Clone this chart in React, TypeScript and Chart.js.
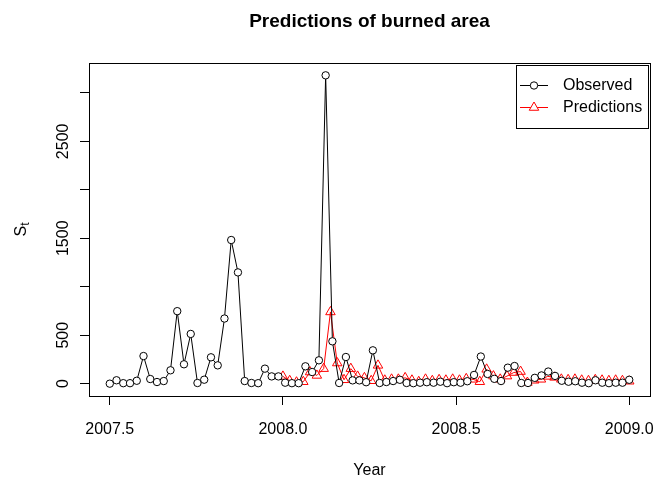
import React, { useEffect, useRef } from 'react';
import { Chart, registerables } from 'chart.js';

Chart.register(...registerables);

// ---- data: observed (2007.5 .. 2009.0, evenly spaced) and predictions (2008.0 .. 2009.0) ----
const OBS_START = 2007.5;
const OBS_END = 2009.0;
const OBSERVED = [
  0, 35, 5, 5, 30, 285, 48, 17, 27, 138,
  748, 200, 513, 7, 41, 272, 189, 672, 1482, 1148,
  27, 7, 5, 155, 75, 75, 10, 5, 5, 179,
  120, 241, 3181, 437, 7, 275, 34, 34, 15, 344,
  7, 17, 27, 40, 7, 5, 10, 15, 10, 20,
  5, 15, 10, 25, 90, 280, 100, 50, 27, 165,
  182, 7, 7, 60, 85, 125, 80, 30, 20, 25,
  10, 5, 35, 10, 5, 10, 10, 40,
];
const PRED_START = 2008.0;
const PRED_END = 2009.0;
const PREDICTIONS = [
  75, 30, 15, 20, 120, 85, 155, 740, 213, 40,
  155, 75, 60, 30, 189, 35, 45, 45, 60, 35,
  20, 45, 30, 40, 35, 45, 35, 50, 45, 20,
  148, 78, 45, 78, 115, 125, 12, 35, 45, 75,
  65, 45, 40, 45, 35, 30, 40, 35, 30, 35,
  30, 25,
];
const X_TICKS = [2007.5, 2008.0, 2008.5, 2009.0];
const X_TICK_LABELS = ['2007.5', '2008.0', '2008.5', '2009.0'];
const Y_TICKS = [0, 500, 1000, 1500, 2000, 2500, 3000];
const Y_TICK_LABELS = ['0', '500', '', '1500', '', '2500', ''];
const TITLE = 'Predictions of burned area';
const X_TITLE = 'Year';
const Y_TITLE_MAIN = 'S';
const Y_TITLE_SUB = 't';
const SERIES_NAMES = ['Observed', 'Predictions'];
const SERIES_COLORS = ['#000000', '#FF0000'];

const FONT = '"Liberation Sans", Arial, Helvetica, sans-serif';

const evenTimes = (a: number, b: number, n: number) =>
  Array.from({ length: n }, (_, i) => a + ((b - a) * i) / (n - 1));
const obsTimes = evenTimes(OBS_START, OBS_END, OBSERVED.length);
const predTimes = evenTimes(PRED_START, PRED_END, PREDICTIONS.length);
const observedPoints = OBSERVED.map((v, i) => ({ x: obsTimes[i], y: v }));
const predictionPoints = PREDICTIONS.map((v, i) => ({ x: predTimes[i], y: v }));

const xMinData = Math.min(OBS_START, PRED_START);
const xMaxData = Math.max(OBS_END, PRED_END);
const yMaxData = Math.max(...OBSERVED, ...PREDICTIONS);
const yMinData = Math.min(0, ...OBSERVED, ...PREDICTIONS);
const xPad = (xMaxData - xMinData) * 0.04;
const yPad = (yMaxData - yMinData) * 0.04;

const rDecor = {
  id: 'rDecor',
  afterDraw(chart: any) {
    const { ctx, chartArea } = chart;
    const xs = chart.scales.x;
    const ys = chart.scales.y;
    ctx.save();
    // box
    ctx.strokeStyle = '#000';
    ctx.lineWidth = 1;
    ctx.strokeRect(
      Math.round(chartArea.left) + 0.5,
      Math.round(chartArea.top) + 0.5,
      Math.round(chartArea.right - chartArea.left),
      Math.round(chartArea.bottom - chartArea.top)
    );
    ctx.fillStyle = '#000';
    // title
    ctx.font = `bold 19px ${FONT}`;
    ctx.textAlign = 'center';
    ctx.textBaseline = 'alphabetic';
    const cx = (chartArea.left + chartArea.right) / 2;
    ctx.fillText(TITLE, cx, 27);
    // x tick labels
    ctx.font = `16px ${FONT}`;
    X_TICKS.forEach((v, i) => {
      ctx.fillText(X_TICK_LABELS[i], xs.getPixelForValue(v), 434);
    });
    // x title
    ctx.fillText(X_TITLE, cx, 475);
    // y tick labels (rotated)
    Y_TICKS.forEach((v, i) => {
      const lab = Y_TICK_LABELS[i];
      if (!lab) return;
      ctx.save();
      ctx.translate(68, ys.getPixelForValue(v));
      ctx.rotate(-Math.PI / 2);
      ctx.textAlign = 'center';
      ctx.fillText(lab, 0, 0);
      ctx.restore();
    });
    // y title S_t
    ctx.save();
    const cy = (chartArea.top + chartArea.bottom) / 2;
    ctx.translate(26, cy);
    ctx.rotate(-Math.PI / 2);
    ctx.font = `16px ${FONT}`;
    const wS = ctx.measureText(Y_TITLE_MAIN).width;
    ctx.font = `12px ${FONT}`;
    const wT = ctx.measureText(Y_TITLE_SUB).width;
    const start = -(wS + wT) / 2;
    ctx.textAlign = 'left';
    ctx.font = `16px ${FONT}`;
    ctx.fillText(Y_TITLE_MAIN, start, 0);
    ctx.font = `12px ${FONT}`;
    ctx.fillText(Y_TITLE_SUB, start + wS, 3);
    ctx.restore();
    // legend
    const lx0 = 516, ly0 = 65, lx1 = 648, ly1 = 128;
    ctx.fillStyle = '#fff';
    ctx.fillRect(lx0, ly0, lx1 - lx0, ly1 - ly0);
    ctx.strokeStyle = '#000';
    ctx.strokeRect(lx0 + 0.5, ly0 + 0.5, lx1 - lx0, ly1 - ly0);
    const rows = [85, 107];
    SERIES_NAMES.forEach((name, i) => {
      const y = rows[i];
      ctx.strokeStyle = SERIES_COLORS[i];
      ctx.lineWidth = 1;
      ctx.beginPath();
      ctx.moveTo(520, y + 0.5);
      ctx.lineTo(548, y + 0.5);
      ctx.stroke();
      ctx.beginPath();
      if (i === 0) {
        ctx.fillStyle = '#fff';
        ctx.arc(534, y + 0.5, 3.7, 0, Math.PI * 2);
        ctx.fill();
        ctx.stroke();
      } else {
        const r = 5.5;
        const px = 534, py = y + 0.5;
        ctx.fillStyle = '#fff';
        ctx.moveTo(px, py - r);
        ctx.lineTo(px + r * Math.sin((2 * Math.PI) / 3), py + r / 2);
        ctx.lineTo(px - r * Math.sin((2 * Math.PI) / 3), py + r / 2);
        ctx.closePath();
        ctx.fill();
        ctx.stroke();
      }
      ctx.fillStyle = '#000';
      ctx.font = `16px ${FONT}`;
      ctx.textAlign = 'left';
      ctx.textBaseline = 'middle';
      ctx.fillText(name, 563, y + 1);
      ctx.textBaseline = 'alphabetic';
    });
    ctx.restore();
  },
};

export default function App() {
  const ref = useRef<HTMLCanvasElement | null>(null);
  useEffect(() => {
    if (!ref.current) return;
    const chart = new Chart(ref.current, {
      type: 'scatter',
      data: {
        datasets: [
          {
            label: SERIES_NAMES[0],
            data: observedPoints,
            showLine: true,
            borderColor: SERIES_COLORS[0],
            borderWidth: 1,
            pointStyle: 'circle',
            pointRadius: 3.7,
            pointBorderWidth: 1,
            pointBorderColor: SERIES_COLORS[0],
            pointBackgroundColor: '#ffffff',
            tension: 0,
          },
          {
            label: SERIES_NAMES[1],
            data: predictionPoints,
            showLine: true,
            borderColor: SERIES_COLORS[1],
            borderWidth: 1,
            pointStyle: 'triangle',
            pointRadius: 5.5,
            pointBorderWidth: 1,
            pointBorderColor: SERIES_COLORS[1],
            pointBackgroundColor: 'rgba(0,0,0,0)',
            tension: 0,
          },
        ],
      },
      options: {
        responsive: false,
        animation: false,
        devicePixelRatio: 1,
        events: [],
        layout: { padding: { top: 63, right: 18, left: 0, bottom: 0 } },
        plugins: {
          legend: { display: false },
          tooltip: { enabled: false },
          title: { display: false },
        },
        scales: {
          x: {
            type: 'linear',
            min: xMinData - xPad,
            max: xMaxData + xPad,
            grid: { drawOnChartArea: false, drawTicks: true, tickLength: 9, color: '#000', lineWidth: 1 },
            border: { display: false },
            ticks: { display: false },
            afterBuildTicks: (s: any) => {
              s.ticks = X_TICKS.map((v) => ({ value: v }));
            },
            afterFit: (s: any) => {
              s.height = 89;
            },
          },
          y: {
            type: 'linear',
            min: yMinData - yPad,
            max: yMaxData + yPad,
            grid: { drawOnChartArea: false, drawTicks: true, tickLength: 9, color: '#000', lineWidth: 1 },
            border: { display: false },
            ticks: { display: false },
            afterBuildTicks: (s: any) => {
              s.ticks = Y_TICKS.map((v) => ({ value: v }));
            },
            afterFit: (s: any) => {
              s.width = 89;
            },
          },
        },
      },
      plugins: [rDecor],
    });
    return () => chart.destroy();
  }, []);
  return (
    <div style={{ position: 'fixed', left: 0, top: 0, width: 668, height: 485, background: '#fff' }}>
      <canvas ref={ref} width={668} height={485} style={{ width: 668, height: 485, display: 'block' }} />
    </div>
  );
}
